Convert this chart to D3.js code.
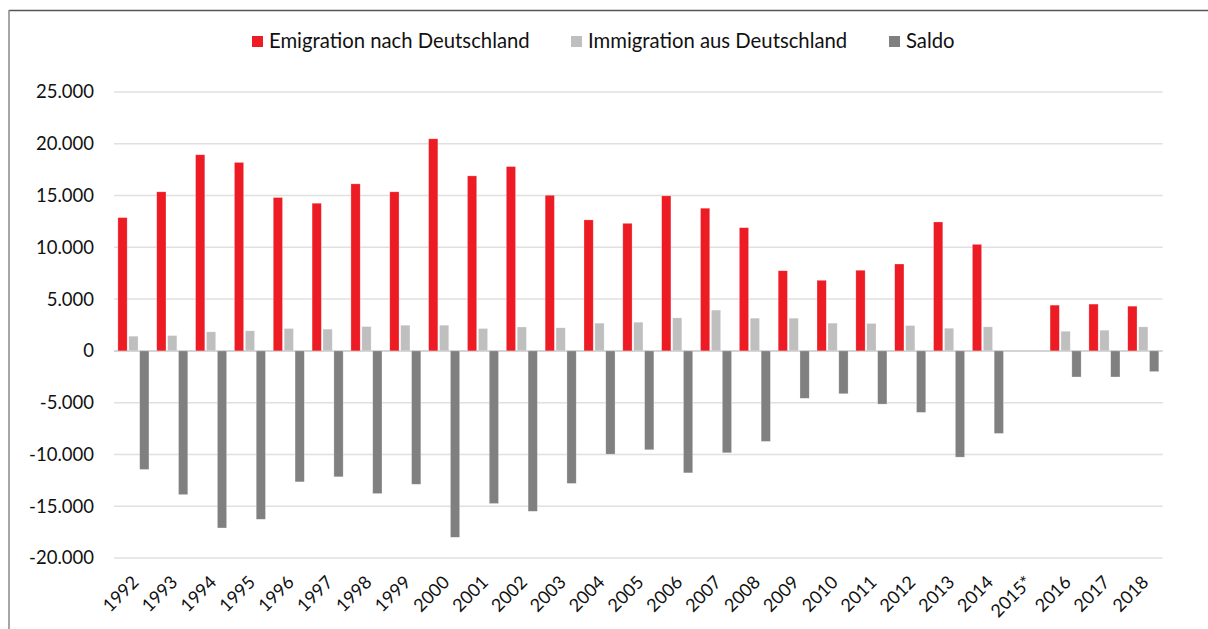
<!DOCTYPE html>
<html>
<head>
<meta charset="utf-8">
<script src="https://cdn.jsdelivr.net/npm/d3@7"></script>
<style>
  body { margin: 0; background: #fff; }
  svg { display: block; font-family: 'Lato', 'Open Sans', sans-serif; }
</style>
</head>
<body>
<div id="chart"></div>
<script>
'use strict';

const years = ['1992', '1993', '1994', '1995', '1996', '1997', '1998', '1999', '2000', '2001',
  '2002', '2003', '2004', '2005', '2006', '2007', '2008', '2009', '2010', '2011', '2012',
  '2013', '2014', '2015*', '2016', '2017', '2018'];

const emigration = [12870, 15360, 18940, 18200, 14810, 14260, 16130, 15360, 20480, 16900,
  17800, 15030, 12650, 12320, 14970, 13780, 11900, 7740, 6820, 7790, 8390,
  12450, 10290, null, 4420, 4520, 4320];

const immigration = [1420, 1480, 1840, 1940, 2160, 2100, 2350, 2480, 2480, 2160,
  2310, 2230, 2680, 2770, 3190, 3940, 3160, 3160, 2680, 2650, 2450,
  2190, 2320, null, 1900, 2000, 2320];

const saldo = [-11450, -13880, -17100, -16260, -12650, -12160, -13780, -12880, -18000, -14740,
  -15490, -12800, -9970, -9550, -11780, -9840, -8740, -4580, -4140, -5140, -5940,
  -10260, -7970, null, -2520, -2520, -2000];

const seriesNames = ['Emigration nach Deutschland', 'Immigration aus Deutschland', 'Saldo'];
const seriesColors = ['#ed1c24', '#bfbfbf', '#808080'];
const yTicks = [-20000, -15000, -10000, -5000, 0, 5000, 10000, 15000, 20000, 25000];

const width = 1208;
const height = 629;

const de = d3.formatLocale({ decimal: ',', thousands: '.', grouping: [3], currency: ['', ''], minus: '-' });
const fmt = de.format(',');

const rows = years.map((y, i) => ({
  year: y,
  values: [emigration[i], immigration[i], saldo[i]]
}));

const svg = d3.select('#chart')
  .append('svg')
  .attr('width', width)
  .attr('height', height);

// frame
svg.append('line')
  .attr('x1', 9).attr('x2', width).attr('y1', 10.5).attr('y2', 10.5)
  .attr('stroke', '#555').attr('stroke-width', 1.5);
svg.append('line')
  .attr('x1', 9).attr('x2', 9).attr('y1', 10).attr('y2', height)
  .attr('stroke', '#888').attr('stroke-width', 1.5);

const x = d3.scaleBand()
  .domain(years)
  .range([114, 1162.7])
  .paddingInner(0.2)
  .paddingOuter(0.1);

const x1 = d3.scaleBand()
  .domain(d3.range(3))
  .range([0, x.bandwidth()])
  .paddingInner(0.15);

const y = d3.scaleLinear()
  .domain([-20000, 25000])
  .range([558, 92]);

// grid
svg.append('g')
  .selectAll('line')
  .data(yTicks)
  .join('line')
  .attr('x1', 114)
  .attr('x2', 1162.7)
  .attr('y1', (d) => y(d))
  .attr('y2', (d) => y(d))
  .attr('stroke', (d) => (d === 0 ? '#d4d4d4' : '#e0e0e0'))
  .attr('stroke-width', (d) => (d === 0 ? 2 : 1.5));

// y axis labels
const yAxis = d3.axisLeft(y)
  .tickValues(yTicks)
  .tickFormat(fmt)
  .tickSize(0)
  .tickPadding(0);

svg.append('g')
  .attr('transform', 'translate(94,0)')
  .call(yAxis)
  .call((g) => g.select('.domain').remove())
  .selectAll('text')
  .attr('font-family', "'Lato', 'Open Sans', sans-serif")
  .attr('font-size', 18.5)
  .attr('fill', '#111');

// bars
svg.append('g')
  .selectAll('g')
  .data(rows)
  .join('g')
  .attr('transform', (d) => `translate(${x(d.year)},0)`)
  .selectAll('rect')
  .data((d) => d.values.map((v, k) => ({ v, k })).filter((e) => e.v !== null))
  .join('rect')
  .attr('x', (d) => x1(d.k))
  .attr('width', x1.bandwidth())
  .attr('y', (d) => y(Math.max(0, d.v)))
  .attr('height', (d) => Math.abs(y(d.v) - y(0)))
  .attr('fill', (d) => seriesColors[d.k])
  .attr('stroke', 'rgba(255,255,255,0.45)')
  .attr('stroke-width', 0.6);

// x labels
const xAxis = d3.axisBottom(x).tickSize(0).tickPadding(0);

svg.append('g')
  .attr('transform', 'translate(0,579)')
  .call(xAxis)
  .call((g) => g.select('.domain').remove())
  .selectAll('text')
  .attr('font-family', "'Lato', 'Open Sans', sans-serif")
  .attr('font-size', 18)
  .attr('fill', '#111')
  .attr('text-anchor', 'end')
  .attr('dy', '0.35em')
  .attr('transform', 'translate(2,0) rotate(-45)');

// legend
const legendX = [252, 571, 889];
const legend = svg.append('g')
  .selectAll('g')
  .data(seriesNames)
  .join('g')
  .attr('transform', (d, i) => `translate(${legendX[i]},36)`);

legend.append('rect')
  .attr('width', 11)
  .attr('height', 11)
  .attr('fill', (d, i) => seriesColors[i]);

legend.append('text')
  .attr('x', 17)
  .attr('y', 11.5)
  .attr('font-size', 20.3)
  .attr('fill', '#111')
  .text((d) => d);
</script>
</body>
</html>
